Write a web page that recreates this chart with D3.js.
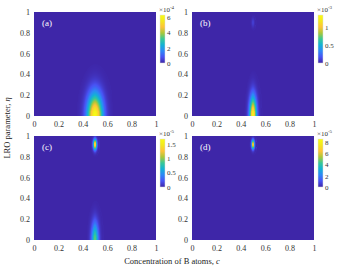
<!DOCTYPE html>
<html>
<head>
<meta charset="utf-8">
<script src="https://cdn.jsdelivr.net/npm/d3@7"></script>
<style>
  body { margin: 0; background: #fff; }
  svg { display: block; font-family: "Liberation Serif", "DejaVu Serif", serif; }
</style>
</head>
<body>
<svg id="chart" width="343" height="272"></svg>
<script>
// axis ticks
cTicks = [0, 0.2, 0.4, 0.6, 0.8, 1];
etaTicks = [0, 0.2, 0.4, 0.6, 0.8, 1];

// one entry per panel
panelLabels = ["(a)", "(b)", "(c)", "(d)"];
exponents = ["-4", "-3", "-5", "-5"];
barMax = [6.3, 1.33, 1.68, 8.6];
barTicks = [[0, 2, 4, 6], [0, 0.5, 1], [0, 0.5, 1, 1.5], [0, 2, 4, 6, 8]];

// peaks: panel, centre (c, eta), spread (c, eta), height in colorbar units
peakPanel  = [0,     1,     1,    2,     2,     3];
peakC      = [0.5,   0.5,   0.5,  0.5,   0.5,   0.5];
peakEta    = [0,     0,     0.9,  0.92,  0,     0.92];
spreadC    = [0.045, 0.022, 0.01, 0.012, 0.022, 0.01];
spreadEta  = [0.15,  0.13,  0.03, 0.035, 0.12,  0.03];
peakHeight = [6.3,   1.33,  0.12, 1.68,  0.95,  8.6];

// parula-like colormap
parula = ["#3e26a8", "#4852f4", "#2e87f7", "#12b1d6", "#37c897", "#abc739", "#fec338", "#f3e81f", "#f9fb15"];

svg = d3.select("#chart");

// panel placement
W = 122; H = 104;
lefts = [34, 192, 34, 192];
tops = [12, 12, 136, 136];

nx = 125; ny = 106;

panelLabels.forEach(function(label, p) {
  x0 = lefts[p]; y0 = tops[p];
  g = svg.append("g").attr("transform", `translate(${x0},${y0})`);

  x = d3.scaleLinear().domain([0, 1]).range([0, W]);
  y = d3.scaleLinear().domain([0, 1]).range([H, 0]);

  color = d3.scaleLinear()
    .domain(parula.map((d, i) => barMax[p] * i / (parula.length - 1)))
    .range(parula)
    .clamp(true);

  // background (zero level)
  g.append("rect")
    .attr("x", 0).attr("y", 0)
    .attr("width", W).attr("height", H)
    .attr("fill", color(0));

  // build cells for this panel
  peaks = d3.range(peakPanel.length).filter(k => peakPanel[k] === p);
  cells = [];
  dc = 1 / nx; de = 1 / ny;
  for (i = 0; i < nx; i++) {
    for (j = 0; j < ny; j++) {
      c = (i + 0.5) * dc;
      e = (j + 0.5) * de;
      v = 0;
      peaks.forEach(k => {
        v += peakHeight[k] * Math.exp(-0.5 * Math.pow((c - peakC[k]) / spreadC[k], 2)
                                      - 0.5 * Math.pow((e - peakEta[k]) / spreadEta[k], 2));
      });
      if (v > barMax[p] * 0.004) cells.push({ c: i * dc, e: j * de, v: v });
    }
  }

  g.selectAll(".cell")
    .data(cells)
    .enter().append("rect")
      .attr("class", "cell")
      .attr("x", d => x(d.c))
      .attr("y", d => y(d.e + de))
      .attr("width", x(dc) - x(0) + 0.4)
      .attr("height", y(0) - y(de) + 0.4)
      .attr("fill", d => color(d.v))
      .attr("shape-rendering", "crispEdges");

  // axes
  xAxis = g.append("g")
    .attr("transform", `translate(0,${H})`)
    .call(d3.axisBottom(x).tickValues(cTicks).tickSize(0).tickPadding(5).tickFormat(d3.format("")));
  yAxis = g.append("g")
    .call(d3.axisLeft(y).tickValues(etaTicks).tickSize(0).tickPadding(4).tickFormat(d3.format("")));
  [xAxis, yAxis].forEach(a => {
    a.select(".domain").remove();
    a.selectAll("text").attr("font-size", 8).attr("fill", "#333")
      .attr("font-family", "Liberation Serif, serif");
  });

  // panel label
  g.append("text")
    .attr("x", 8).attr("y", 14)
    .attr("font-size", 9).attr("fill", "#fff")
    .text(label);

  // colorbar
  bx = W + 4; bTop = 3; bH = 48; bW = 5;
  cb = d3.scaleLinear().domain([0, barMax[p]]).range([bTop + bH, bTop]);
  gradId = "grad" + p;
  grad = svg.append("defs").append("linearGradient")
    .attr("id", gradId)
    .attr("x1", 0).attr("y1", 1).attr("x2", 0).attr("y2", 0);
  grad.selectAll("stop")
    .data(parula)
    .enter().append("stop")
      .attr("offset", (d, i) => i / (parula.length - 1))
      .attr("stop-color", d => d);
  g.append("rect")
    .attr("x", bx).attr("y", bTop)
    .attr("width", bW).attr("height", bH)
    .attr("fill", `url(#${gradId})`)
    .attr("stroke", "#ddd").attr("stroke-width", 0.5);
  cbAxis = g.append("g")
    .attr("transform", `translate(${bx + bW},0)`)
    .call(d3.axisRight(cb).tickValues(barTicks[p]).tickSize(0).tickPadding(2).tickFormat(d3.format("")));
  cbAxis.select(".domain").remove();
  cbAxis.selectAll("text").attr("font-size", 7).attr("fill", "#333")
    .attr("font-family", "Liberation Serif, serif");

  // exponent
  ex = g.append("text")
    .attr("x", bx - 1).attr("y", bTop - 3)
    .attr("font-size", 7).attr("fill", "#333");
  ex.append("tspan").text("\u00d710");
  ex.append("tspan").attr("dy", -3).attr("font-size", 5).text(exponents[p]);
});

// shared axis titles
yl = svg.append("text")
  .attr("transform", "translate(10,128) rotate(-90)")
  .attr("text-anchor", "middle")
  .attr("font-size", 8.5).attr("fill", "#222");
yl.append("tspan").text("LRO parameter, ");
yl.append("tspan").attr("font-style", "italic").text("\u03b7");

xl = svg.append("text")
  .attr("x", 172).attr("y", 264)
  .attr("text-anchor", "middle")
  .attr("font-size", 8.5).attr("fill", "#222");
xl.append("tspan").text("Concentration of B atoms,  ");
xl.append("tspan").attr("font-style", "italic").text("c");
</script>
</body>
</html>
